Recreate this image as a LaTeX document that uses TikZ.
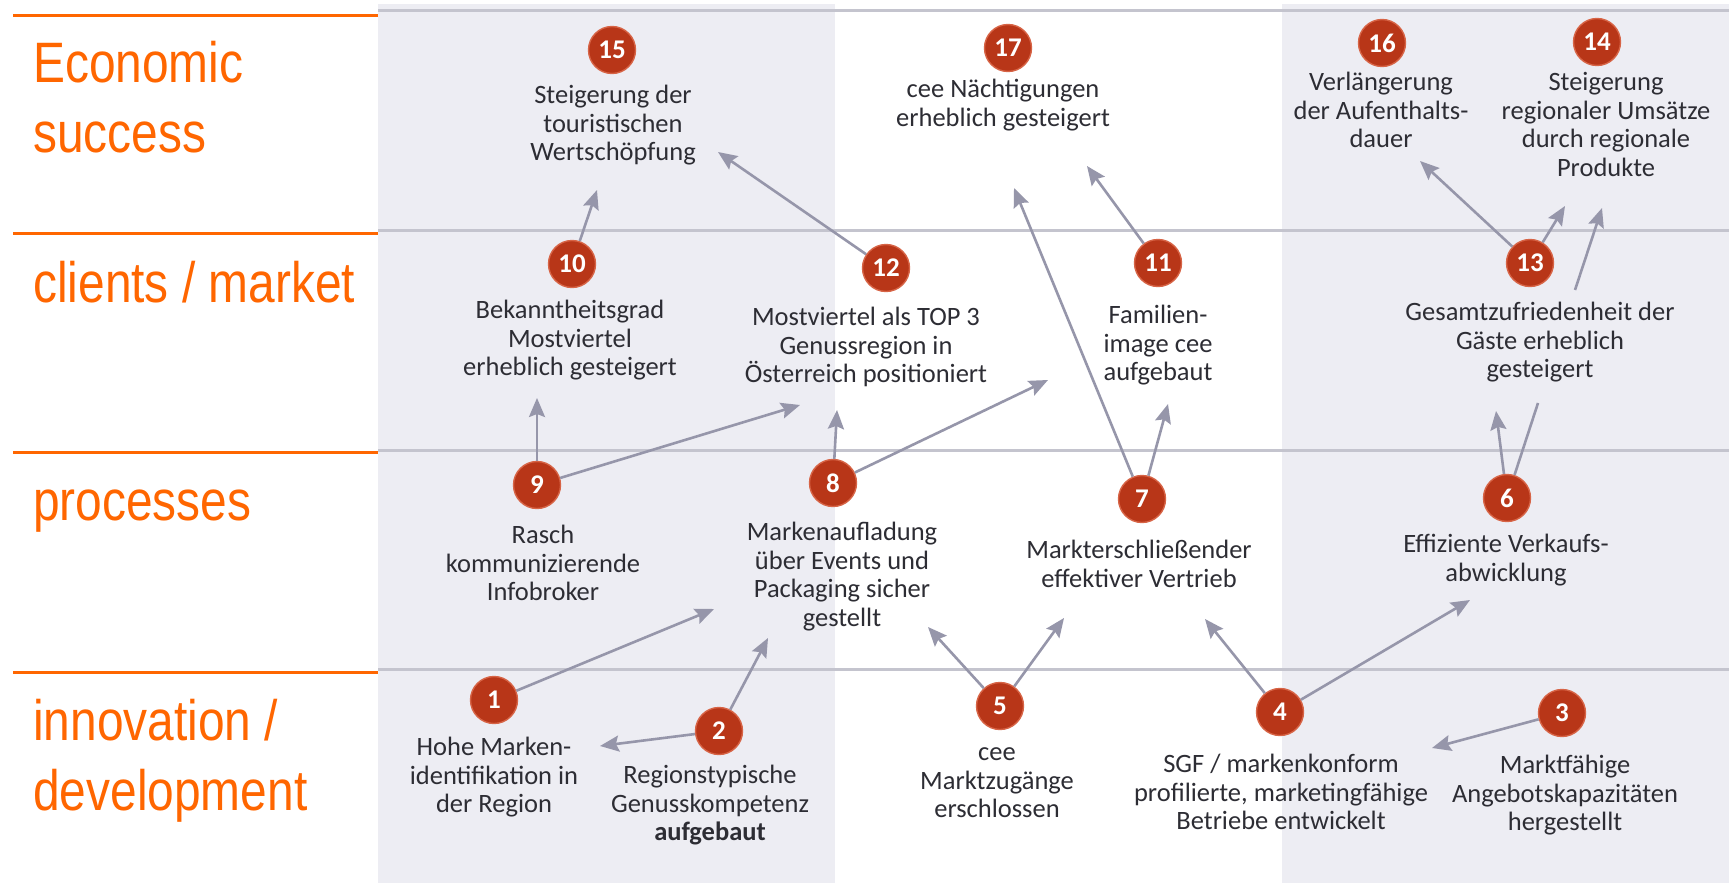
\documentclass[tikz,border=0pt]{standalone}
\usepackage{fontspec}
\usepackage{graphicx}
\setmainfont{Carlito}
\newfontfamily\labfont{Liberation Sans}
\usetikzlibrary{arrows.meta}
\definecolor{orng}{RGB}{255,102,0}
\definecolor{panel}{RGB}{237,237,243}
\definecolor{sepl}{RGB}{196,196,206}
\definecolor{arr}{RGB}{150,150,170}
\definecolor{circ}{RGB}{184,54,24}
\definecolor{circring}{RGB}{215,100,70}
\definecolor{txt}{RGB}{45,45,52}
\newcommand{\firstln}{\rule{0pt}{20pt}}
\newcommand{\lanetext}[1]{\scalebox{0.84}[1]{#1}}
\begin{document}
\begin{tikzpicture}[x=1pt,y=-1pt,
  num/.style={circle, fill=circ, draw=circring, line width=1.4pt, minimum size=47pt, inner sep=0pt, text=white, font=\bfseries\fontsize{27}{27}\selectfont},
  lbl/.style={align=center, anchor=north, inner sep=0pt, text=txt, font=\fontsize{26.5}{28.8}\selectfont},
  conn/.style={draw=arr, line width=2.6pt, -{Stealth[length=19pt,width=16pt,inset=3pt]}},
  plain/.style={draw=arr, line width=2.6pt},
  lane/.style={text=orng, anchor=base west, inner sep=0pt, font=\labfont\fontsize{57}{68}\selectfont},
  sep/.style={draw=sepl, line width=3pt},
  osep/.style={draw=orng, line width=3pt},
]
\fill[white] (0,0) rectangle (1729,883);
\useasboundingbox (0,0) rectangle (1729,883);
% panels
\fill[panel] (378,4) rectangle (835,883);
\fill[panel] (1282,4) rectangle (1729,883);
% separators
\draw[sep] (378,11) -- (1729,11);
\draw[sep] (378,230) -- (1729,230);
\draw[sep] (378,450) -- (1729,450);
\draw[sep] (378,669) -- (1729,669);
\draw[osep] (13,16) -- (378,16);
\draw[osep] (13,233) -- (378,233);
\draw[osep] (13,452) -- (378,452);
\draw[osep] (13,672) -- (378,672);
% lane labels
\node[lane] (l1a) at (33,82) {\lanetext{Economic}};
\node[lane] (l1b) at (33,152) {\lanetext{success}};
\node[lane] (l2) at (33,302) {\lanetext{clients / market}};
\node[lane] (l3) at (33,520) {\lanetext{processes}};
\node[lane] (l4a) at (33,740) {\lanetext{innovation /}};
\node[lane] (l4b) at (33,810) {\lanetext{development}};
% circles
\node[num] (c15) at (612,50) {15};
\node[num] (c17) at (1008,48) {17};
\node[num] (c16) at (1382,43) {16};
\node[num] (c14) at (1597,42) {14};
\node[num] (c10) at (572,264) {10};
\node[num] (c12) at (886,268) {12};
\node[num] (c11) at (1158,263) {11};
\node[num] (c13) at (1530,263) {13};
\node[num] (c9) at (537,485) {9};
\node[num] (c8) at (833,483) {8};
\node[num] (c7) at (1142,499) {7};
\node[num] (c6) at (1507,498) {6};
\node[num] (c1) at (494,700) {1};
\node[num] (c2) at (719,731) {2};
\node[num] (c5) at (1000,706) {5};
\node[num] (c4) at (1280,712) {4};
\node[num] (c3) at (1562,713) {3};
% texts
\node[lbl] (t15) at (613,83) {\firstln Steigerung der\\touristischen\\Wertschöpfung};
\node[lbl] (t17) at (1003,77) {\firstln cee Nächtigungen\\erheblich gesteigert};
\node[lbl] (t16) at (1381,70) {\firstln Verlängerung\\der Aufenthalts-\\dauer};
\node[lbl] (t14) at (1606,70) {\firstln Steigerung\\regionaler Umsätze\\durch regionale\\Produkte};
\node[lbl] (t10) at (570,298) {\firstln Bekanntheitsgrad\\Mostviertel\\erheblich gesteigert};
\node[lbl] (t12) at (866,305) {\firstln Mostviertel als TOP 3\\Genussregion in\\Österreich positioniert};
\node[lbl] (t11) at (1158,303) {\firstln Familien-\\image cee\\aufgebaut};
\node[lbl] (t13) at (1540,300) {\firstln Gesamtzufriedenheit der\\Gäste erheblich\\gesteigert};
\node[lbl] (t9) at (543,523) {\firstln Rasch\\kommunizierende\\Infobroker};
\node[lbl] (t8) at (842,520) {\firstln Markenaufladung\\über Events und\\Packaging sicher\\gestellt};
\node[lbl] (t7) at (1139,538) {\firstln Markterschließender\\effektiver Vertrieb};
\node[lbl] (t6) at (1506,532) {\firstln Effiziente Verkaufs-\\abwicklung};
\node[lbl] (t1) at (494,735) {\firstln Hohe Marken-\\identifikation in\\der Region};
\node[lbl] (t2) at (710,763) {\firstln Regionstypische\\Genusskompetenz\\\textbf{aufgebaut}};
\node[lbl] (t5) at (997,740) {\firstln cee\\Marktzugänge\\erschlossen};
\node[lbl] (t4) at (1281,752) {\firstln SGF / markenkonform\\profilierte, marketingfähige\\Betriebe entwickelt};
\node[lbl] (t3) at (1565,753) {\firstln Marktfähige\\Angebotskapazitäten\\hergestellt};
% arrow end points
\coordinate (e10) at (597,190);
\coordinate (e12) at (718,152);
\coordinate (e9a) at (537,398);
\coordinate (e9b) at (800,405);
\coordinate (e8a) at (837,410);
\coordinate (e8b) at (1048,380);
\coordinate (e7a) at (1014,188);
\coordinate (e11) at (1087,166);
\coordinate (e7b) at (1168,404);
\coordinate (e13a) at (1420,161);
\coordinate (e13b) at (1565,206);
\coordinate (e6a) at (1496,411);
\coordinate (g6a) at (1538,403);
\coordinate (g6b) at (1575,290);
\coordinate (e6b) at (1602,208);
\coordinate (e5a) at (928,627);
\coordinate (e5b) at (1064,618);
\coordinate (e1) at (714,609);
\coordinate (e2a) at (768,638);
\coordinate (e2b) at (600,746);
\coordinate (e4a) at (1205,619);
\coordinate (e4b) at (1470,600);
\coordinate (e3) at (1432,748);
% connectors
\draw[conn] (c10) -- (e10);
\draw[conn] (c12) -- (e12);
\draw[conn] (c9) -- (e9a);
\draw[conn] (c9) -- (e9b);
\draw[conn] (c8) -- (e8a);
\draw[conn] (c8) -- (e8b);
\draw[conn] (c7) -- (e7a);
\draw[conn] (c11) -- (e11);
\draw[conn] (c7) -- (e7b);
\draw[conn] (c13) -- (e13a);
\draw[conn] (c13) -- (e13b);
\draw[conn] (c6) -- (e6a);
\draw[plain] (c6) -- (g6a);
\draw[conn] (g6b) -- (e6b);
\draw[conn] (c5) -- (e5a);
\draw[conn] (c5) -- (e5b);
\draw[conn] (c1) -- (e1);
\draw[conn] (c2) -- (e2a);
\draw[conn] (c2) -- (e2b);
\draw[conn] (c4) -- (e4a);
\draw[conn] (c4) -- (e4b);
\draw[conn] (c3) -- (e3);
\end{tikzpicture}
\end{document}
